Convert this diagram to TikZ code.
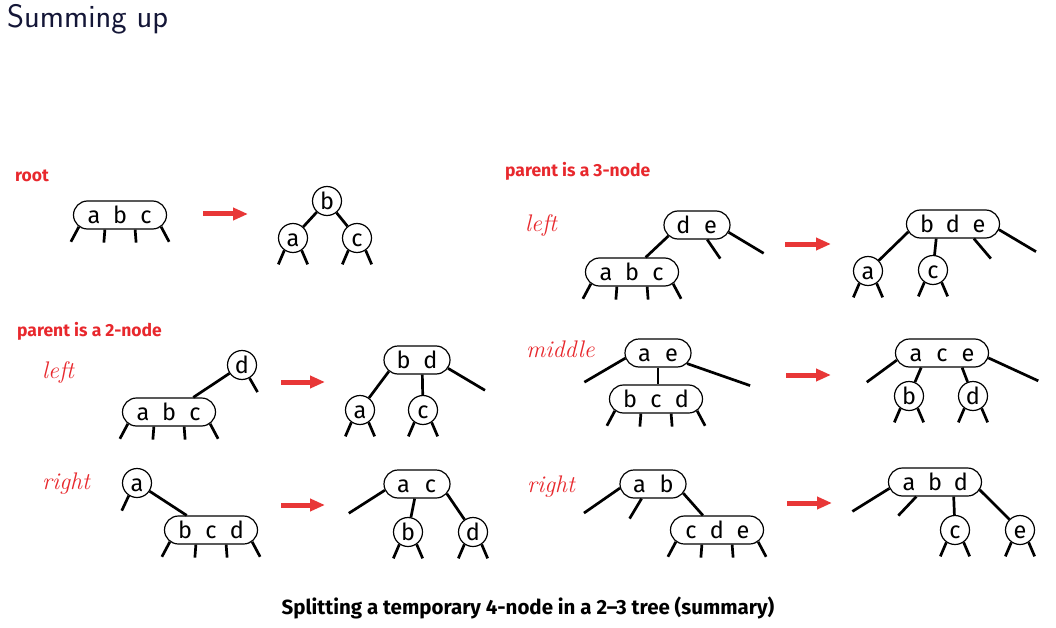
\documentclass[tikz,border=0pt]{standalone}
\usepackage{fontspec}
\usetikzlibrary{shapes.misc,arrows.meta}
\newfontfamily\treefont{Fira Sans}
\definecolor{lblred}{RGB}{232,40,45}
\definecolor{arrred}{RGB}{232,55,55}
\definecolor{titleblue}{RGB}{20,22,55}
\newcommand\kz[1]{\makebox[0pt]{#1}}
\newcommand\kthree[3]{\kz{#1}\hspace{26pt}\kz{#2}\hspace{26pt}\kz{#3}\vphantom{b}}
\newcommand\ktwo[2]{\kz{#1}\hspace{27pt}\kz{#2}\vphantom{b}}
\newcommand\kone[1]{#1\vphantom{b}}
\newcommand\fourlegs[1]{\draw[edge] (#1.196) -- ++(-8,15) (#1.224) -- ++(-1,13) (#1.316) -- ++(1,13) (#1.344) -- ++(8,15);}
\newcommand\twolegs[1]{\draw[edge] (#1.235) -- ++(-6,14) (#1.305) -- ++(6,14);}
\tikzset{
  pill/.style={rounded rectangle, draw, line width=1.2pt, inner xsep=0pt, inner ysep=0pt,
    minimum height=28pt, font=\treefont\fontsize{23.5}{23.5}\selectfont},
  pilltwo/.style={pill, minimum width=66pt},
  pillthree/.style={pill, minimum width=93pt},
  keycirc/.style={circle, draw, line width=1.2pt, inner sep=0pt, minimum size=29pt,
    font=\treefont\fontsize{23.5}{23.5}\selectfont},
  edge/.style={line width=2.7pt},
  lbl/.style={font=\treefont\bfseries\fontsize{17.5}{17.5}\selectfont, text=lblred, anchor=base west, inner sep=0pt},
  casel/.style={font=\rmfamily\itshape\fontsize{24}{24}\selectfont, text=lblred, anchor=base west, inner sep=0pt},
  bigarrow/.style={arrred, line width=5pt, -{Triangle[length=15pt,width=12pt]}},
}
\begin{document}
\begin{tikzpicture}[x=1pt,y=-1pt]
\fill[white] (0,0) rectangle (1056,628);
\useasboundingbox (0,0) rectangle (1056,628);

\node[anchor=base west, inner sep=0pt, font=\sffamily\fontsize{32.5}{38}\selectfont, text=titleblue] (title) at (7,28) {Summing up};

% ---------- root ----------
\node[lbl] (lroot) at (15,182) {root};
\node[pillthree] (r4) at (120,215) {\kthree{a}{b}{c}};
\fourlegs{r4}
\coordinate (ra1) at (203,214); \coordinate (ra2) at (248,214);
\draw[bigarrow] (ra1) -- (ra2);
\node[keycirc] (rb) at (327,201) {\kone{b}};
\node[keycirc] (ra) at (293,238) {\kone{a}};
\node[keycirc] (rc) at (357,238) {\kone{c}};
\draw[edge] (rb) -- (ra);
\draw[edge] (rb) -- (rc);
\twolegs{ra}\twolegs{rc}

% ---------- parent 2-node, left ----------
\node[lbl] (l2) at (17,336) {parent is a 2-node};
\node[casel] (l2left) at (42,378) {left};
\node[keycirc] (pd) at (242,365) {\kone{d}};
\node[pillthree] (p4) at (169,412) {\kthree{a}{b}{c}};
\draw[edge] (pd) -- (p4.31);
\draw[edge] (pd.300) -- ++(8,14);
\fourlegs{p4}
\coordinate (pa1) at (281,382); \coordinate (pa2) at (325,382);
\draw[bigarrow] (pa1) -- (pa2);
\node[pilltwo] (pbd) at (417,360) {\ktwo{b}{d}};
\node[keycirc] (pa) at (360,410) {\kone{a}};
\node[keycirc] (pc) at (423,410) {\kone{c}};
\draw[edge] (pbd.202) -- (pa);
\draw[edge] (pbd.290) -- (pc);
\draw[edge] (pbd.345) -- ++(37,22);
\twolegs{pa}\twolegs{pc}

% ---------- parent 2-node, right ----------
\node[casel] (r2right) at (42,489) {right};
\node[keycirc] (qa) at (137,483) {\kone{a}};
\draw[edge] (qa.237) -- ++(-7,15);
\node[pillthree] (q4) at (211,530) {\kthree{b}{c}{d}};
\draw[edge] (qa) -- (q4.149);
\fourlegs{q4}
\coordinate (qa1) at (281,505); \coordinate (qa2) at (325,505);
\draw[bigarrow] (qa1) -- (qa2);
\node[pilltwo] (qac) at (417,484) {\ktwo{a}{c}};
\node[keycirc] (qb) at (408,532) {\kone{b}};
\node[keycirc] (qd) at (473,532) {\kone{d}};
\draw[edge] (qac.191) -- ++(-36,23);
\draw[edge] (qac.261) -- (qb);
\draw[edge] (qac.342) -- (qd);
\twolegs{qb}\twolegs{qd}

% ---------- parent 3-node, left ----------
\node[lbl] (l3) at (505,177) {parent is a 3-node};
\node[casel] (l3left) at (525,231) {left};
\node[pilltwo] (sde) at (697,225) {\ktwo{d}{e}};
\node[pillthree] (s4) at (632,272) {\kthree{a}{b}{c}};
\draw[edge] (sde.201) -- (s4.47);
\draw[edge] (sde.305) -- ++(13,19);
\draw[edge] (sde.347) -- ++(35,21);
\fourlegs{s4}
\coordinate (sa1) at (785,244); \coordinate (sa2) at (831,244);
\draw[bigarrow] (sa1) -- (sa2);
\node[pillthree] (sbde) at (953,224) {\kthree{b}{d}{e}};
\node[keycirc] (sa) at (868,271) {\kone{a}};
\node[keycirc] (sc) at (933,270) {\kone{c}};
\draw[edge] (sbde.190) -- (sa);
\draw[edge] (sbde.221) -- (sc);
\draw[edge] (sbde.325) -- ++(17,20);
\draw[edge] (sbde.353) -- ++(37,22);
\twolegs{sa}\twolegs{sc}

% ---------- parent 3-node, middle ----------
\node[casel] (l3mid) at (526,357) {middle};
\node[pilltwo] (mae) at (658,353) {\ktwo{a}{e}};
\node[pillthree] (m4) at (656,399) {\kthree{b}{c}{d}};
\draw[edge] (mae.189) -- ++(-41,24);
\draw[edge] (mae.south) -- (mae.south |- m4.north);
\draw[edge] (mae.340) -- ++(63,22);
\fourlegs{m4}
\coordinate (ma1) at (786,375); \coordinate (ma2) at (831,375);
\draw[bigarrow] (ma1) -- (ma2);
\node[pillthree] (mace) at (942,353) {\kthree{a}{c}{e}};
\node[keycirc] (mb) at (909,396) {\kone{b}};
\node[keycirc] (md) at (973,396) {\kone{d}};
\draw[edge] (mace.189) -- ++(-30,22);
\draw[edge] (mace.215) -- (mb);
\draw[edge] (mace.324) -- (md);
\draw[edge] (mace.354) -- ++(50,23);
\twolegs{mb}\twolegs{md}

% ---------- parent 3-node, right ----------
\node[casel] (l3right) at (527,492) {right};
\node[pilltwo] (nab) at (653,484) {\ktwo{a}{b}};
\node[pillthree] (n4) at (717,530) {\kthree{c}{d}{e}};
\draw[edge] (nab.187) -- ++(-36,25);
\draw[edge] (nab.232) -- ++(-12,20);
\draw[edge] (nab.343) -- (n4.134);
\fourlegs{n4}
\coordinate (na1) at (787,503); \coordinate (na2) at (832,503);
\draw[bigarrow] (na1) -- (na2);
\node[pillthree] (nabd) at (935,482) {\kthree{a}{b}{d}};
\node[keycirc] (nc) at (955,530) {\kone{c}};
\node[keycirc] (ne) at (1020,530) {\kone{e}};
\draw[edge] (nabd.188) -- ++(-37,23);
\draw[edge] (nabd.218) -- ++(-18,19);
\draw[edge] (nabd.322) -- (nc);
\draw[edge] (nabd.350) -- (ne);
\twolegs{nc}\twolegs{ne}

% ---------- caption ----------
\node[anchor=base, inner sep=0pt, font=\treefont\bfseries\fontsize{20.5}{20.5}\selectfont] (caption) at (528,614) {Splitting a temporary 4-node in a 2–3 tree (summary)};
\end{tikzpicture}
\end{document}
